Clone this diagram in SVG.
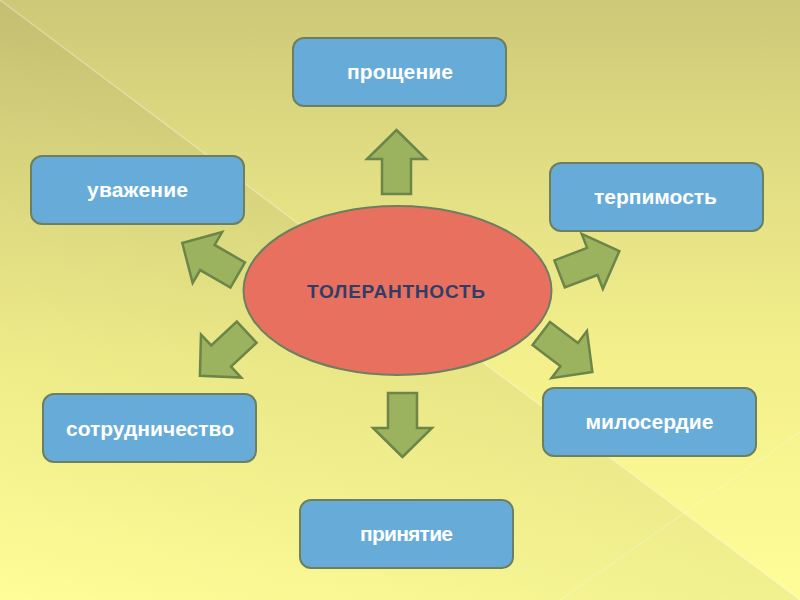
<svg xmlns="http://www.w3.org/2000/svg" xmlns:xlink="http://www.w3.org/1999/xlink" width="800" height="600" viewBox="0 0 800 600">
  <defs>
    <linearGradient id="bgA" x1="0" y1="0" x2="0" y2="1">
      <stop offset="0" stop-color="#cdc877"/>
      <stop offset="0.25" stop-color="#dfdb82"/>
      <stop offset="0.6" stop-color="#f3f08c"/>
      <stop offset="1" stop-color="#fefd97"/>
    </linearGradient>
    <linearGradient id="bgB" gradientUnits="userSpaceOnUse" x1="400" y1="300" x2="112" y2="684">
      <stop offset="0" stop-color="#000" stop-opacity="0.05"/>
      <stop offset="1" stop-color="#000" stop-opacity="0"/>
    </linearGradient>
    <path id="arr" d="M0,-32 L29.5,-3 L14.5,-3 L14.5,32 L-14.5,32 L-14.5,-3 L-29.5,-3 Z"/>
    <style>
      .box { fill: #67acd9; stroke: #6e7f60; stroke-width: 2; }
      .lbl { fill: #ffffff; font-family: "Liberation Sans", "DejaVu Sans", sans-serif; font-weight: bold; font-size: 21px; text-anchor: middle; }
      .arrow { fill: #9bb25e; stroke: #6c8548; stroke-width: 2.5; stroke-linejoin: miter; }
      .center { fill: #e8705f; stroke: #6e7f60; stroke-width: 2; }
      .ctext { fill: #2f3e68; font-family: "Liberation Sans", "DejaVu Sans", sans-serif; font-weight: bold; font-size: 19px; text-anchor: middle; }
    </style>
  </defs>

  <!-- background -->
  <rect x="0" y="0" width="800" height="600" fill="url(#bgA)"/>
  <polygon points="0,0 800,600 0,600" fill="url(#bgB)"/>
  <line x1="0" y1="0" x2="800" y2="600" stroke="#ffffff" stroke-opacity="0.3" stroke-width="1.5"/>
  <line x1="800" y1="432" x2="560" y2="600" stroke="#ffffff" stroke-opacity="0.18" stroke-width="1.5"/>

  <!-- connectors -->
  <g id="connectors">
    <use xlink:href="#arr" class="arrow" transform="translate(396.5,162)"/>
    <use xlink:href="#arr" class="arrow" transform="translate(402.5,425) rotate(180)"/>
    <use xlink:href="#arr" class="arrow" transform="translate(210,259) rotate(-60)"/>
    <use xlink:href="#arr" class="arrow" transform="translate(589.5,262.5) rotate(69)"/>
    <use xlink:href="#arr" class="arrow" transform="translate(223.3,354) rotate(-133)"/>
    <use xlink:href="#arr" class="arrow" transform="translate(566.8,352.8) rotate(127)"/>
  </g>

  <g id="node-center">
    <ellipse class="center" cx="397.5" cy="290.5" rx="154" ry="84.5"/>
    <text class="ctext" x="396" y="297.5" textLength="178" lengthAdjust="spacing">ТОЛЕРАНТНОСТЬ</text>
  </g>

  <g id="node-proshchenie">
    <rect class="box" x="293" y="38" width="213" height="68" rx="11"/>
    <text class="lbl" x="400" y="79" textLength="106" lengthAdjust="spacing">прощение</text>
  </g>

  <g id="node-uvazhenie">
    <rect class="box" x="31" y="156" width="213" height="68" rx="11"/>
    <text class="lbl" x="137.5" y="197" textLength="101" lengthAdjust="spacing">уважение</text>
  </g>

  <g id="node-terpimost">
    <rect class="box" x="550" y="163" width="213" height="68" rx="11"/>
    <text class="lbl" x="655.5" y="204" textLength="123" lengthAdjust="spacing">терпимость</text>
  </g>

  <g id="node-sotrudnichestvo">
    <rect class="box" x="43" y="394" width="213" height="68" rx="11"/>
    <text class="lbl" x="150" y="435.5" textLength="168" lengthAdjust="spacing">сотрудничество</text>
  </g>

  <g id="node-miloserdie">
    <rect class="box" x="543" y="388" width="213" height="68" rx="11"/>
    <text class="lbl" x="649.5" y="429" textLength="128" lengthAdjust="spacing">милосердие</text>
  </g>

  <g id="node-prinyatie">
    <rect class="box" x="300" y="500" width="213" height="68" rx="11"/>
    <text class="lbl" x="406.5" y="541" textLength="93" lengthAdjust="spacing">принятие</text>
  </g>
</svg>
